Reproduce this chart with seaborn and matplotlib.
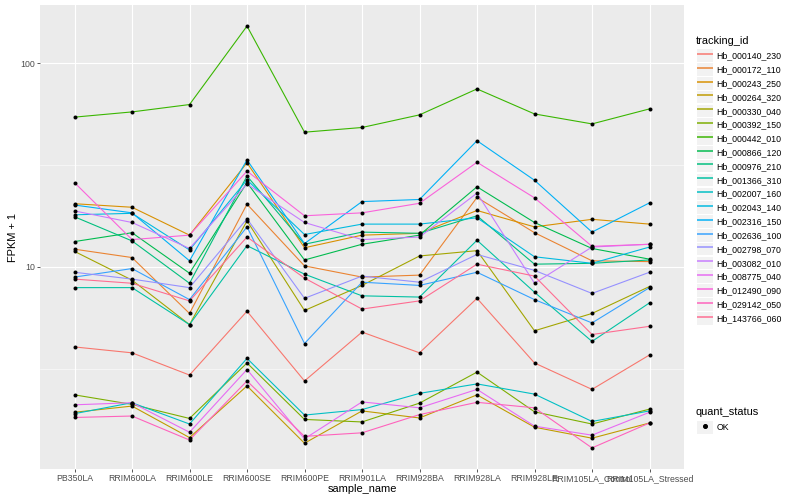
import numpy as np
import pandas as pd
import matplotlib
matplotlib.use("Agg")
import matplotlib.pyplot as plt
import seaborn as sns
from matplotlib.lines import Line2D
from matplotlib.patches import Patch
from matplotlib.legend_handler import HandlerTuple
from matplotlib.ticker import FixedLocator, NullFormatter

# samples on the x axis
samples = ["PB350LA", "RRIM600LA", "RRIM600LE", "RRIM600SE", "RRIM600PE", "RRIM901LA",
           "RRIM928BA", "RRIM928LA", "RRIM928LE", "RRIM105LA_Control", "RRIM105LA_Stressed"]

tracking_ids = ["Hb_000140_230", "Hb_000172_110", "Hb_000243_250", "Hb_000264_320",
                "Hb_000330_040", "Hb_000392_150", "Hb_000442_010", "Hb_000866_120",
                "Hb_000976_210", "Hb_001366_310", "Hb_002007_160", "Hb_002043_140",
                "Hb_002316_150", "Hb_002636_100", "Hb_002798_070", "Hb_003082_010",
                "Hb_008775_040", "Hb_012490_090", "Hb_029142_050", "Hb_143766_060"]

# FPKM + 1, one list per gene
hb_000140_230 = [4.04, 3.78, 2.94, 6.05, 2.75, 4.78, 3.78, 7.0, 3.37, 2.50, 3.69]
hb_000172_110 = [12.2, 11.1, 5.9, 20.3, 10.1, 8.9, 9.1, 21.9, 14.7, 10.7, 10.6]
hb_000243_250 = [20.4, 19.6, 14.3, 32.4, 12.4, 14.3, 14.6, 18.9, 15.7, 17.1, 16.2]
hb_000264_320 = [1.93, 2.07, 1.45, 2.60, 1.36, 1.96, 1.81, 2.35, 1.63, 1.44, 1.71]
hb_000330_040 = [11.9, 8.6, 5.2, 16.8, 6.1, 8.1, 11.3, 12.0, 4.85, 5.9, 8.0]
hb_000392_150 = [2.35, 2.11, 1.80, 3.37, 1.78, 1.73, 2.14, 3.04, 1.94, 1.69, 2.00]
hb_000442_010 = [54.3, 57.6, 62.6, 152.0, 45.8, 48.3, 55.7, 74.7, 56.3, 50.3, 59.6]
hb_000866_120 = [13.3, 14.7, 9.3, 25.9, 10.8, 12.9, 14.3, 24.7, 16.5, 12.3, 10.9]
hb_000976_210 = [17.6, 13.4, 8.3, 27.9, 12.9, 14.8, 14.6, 17.8, 10.3, 10.4, 10.8]
hb_001366_310 = [7.9, 7.9, 5.2, 12.7, 9.2, 7.2, 7.1, 13.5, 7.5, 4.3, 6.65]
hb_002007_160 = [1.90, 2.15, 1.69, 3.55, 1.87, 1.99, 2.39, 2.66, 2.37, 1.74, 1.96]
hb_002043_140 = [18.0, 18.3, 12.1, 26.7, 14.4, 16.2, 16.2, 17.4, 11.2, 10.4, 12.5]
hb_002316_150 = [20.1, 18.4, 10.7, 33.5, 13.0, 20.9, 21.4, 41.6, 26.6, 14.8, 20.6]
hb_002636_100 = [8.9, 9.8, 6.9, 15.7, 4.2, 8.4, 8.1, 9.4, 6.9, 5.3, 7.9]
hb_002798_070 = [9.4, 8.7, 7.9, 17.2, 7.0, 9.0, 8.4, 11.5, 9.6, 7.4, 9.4]
hb_003082_010 = [18.8, 16.5, 12.3, 25.5, 16.5, 13.6, 14.0, 23.0, 8.3, 12.5, 12.9]
hb_008775_040 = [2.10, 2.15, 1.54, 3.13, 1.43, 2.17, 2.03, 2.50, 1.65, 1.49, 1.93]
hb_012490_090 = [25.9, 13.6, 14.3, 29.5, 17.8, 18.4, 20.5, 32.6, 21.8, 12.6, 12.9]
hb_029142_050 = [1.82, 1.85, 1.41, 2.75, 1.47, 1.53, 1.88, 2.16, 2.03, 1.29, 1.71]
hb_143766_060 = [8.7, 8.3, 6.8, 14.0, 8.8, 6.2, 6.8, 10.3, 9.0, 4.65, 5.1]

series = [hb_000140_230, hb_000172_110, hb_000243_250, hb_000264_320, hb_000330_040,
          hb_000392_150, hb_000442_010, hb_000866_120, hb_000976_210, hb_001366_310,
          hb_002007_160, hb_002043_140, hb_002316_150, hb_002636_100, hb_002798_070,
          hb_003082_010, hb_008775_040, hb_012490_090, hb_029142_050, hb_143766_060]

quant_status = ["OK"]

# ggplot2 default hue palette for 20 levels
palette = ["#F8766D", "#EA8331", "#D89000", "#C09B00", "#A3A500", "#7CAE00", "#39B600",
           "#00BB4E", "#00BF7D", "#00C1A3", "#00BFC4", "#00BAE0", "#00B0F6", "#35A2FF",
           "#9590FF", "#C77CFF", "#E76BF3", "#FA62DB", "#FF62BC", "#FF6C91"]

rows = []
for tid, vals in zip(tracking_ids, series):
    for s, v in zip(samples, vals):
        rows.append({"tracking_id": tid, "sample_name": s, "fpkm": v, "quant_status": "OK"})
df = pd.DataFrame(rows)
df["x"] = df["sample_name"].map({s: i for i, s in enumerate(samples)})

plt.rcParams["font.family"] = ["Liberation Sans", "DejaVu Sans"]

W, H = 800, 500
fig = plt.figure(figsize=(W / 72, H / 72), dpi=72)
ax = fig.add_axes([40 / W, 1 - 469 / H, (684 - 40) / W, (469 - 5) / H])
ax.set_facecolor("#EBEBEB")
ax.set_yscale("log")

sns.lineplot(data=df, x="x", y="fpkm", hue="tracking_id", hue_order=tracking_ids,
             palette=dict(zip(tracking_ids, palette)), estimator=None, sort=False,
             linewidth=1.1, legend=False, ax=ax)
sns.scatterplot(data=df, x="x", y="fpkm", color="black", s=16, linewidth=0,
                legend=False, ax=ax, zorder=5)

# ggplot-like limits (5% expansion in log space, 0.6 on discrete axis)
lo = np.log10(df["fpkm"].min())
hi = np.log10(df["fpkm"].max())
r = hi - lo
ax.set_ylim(10 ** (lo - 0.05 * r), 10 ** (hi + 0.05 * r))
ax.set_xlim(-0.6, len(samples) - 0.4)

ax.set_xticks(range(len(samples)))
ax.set_xticklabels(samples)
ax.set_yticks([10, 100])
ax.set_yticklabels(["10", "100"])
ax.yaxis.set_minor_locator(FixedLocator([10 ** 0.5, 10 ** 1.5, 10 ** 2.5]))
ax.yaxis.set_minor_formatter(NullFormatter())
ax.tick_params(which="major", length=2.75, width=0.8, color="#333333",
               labelcolor="#4D4D4D", labelsize=8.8, pad=2.2)
ax.tick_params(which="minor", length=0)
ax.grid(which="major", color="white", linewidth=1.1)
ax.grid(which="minor", axis="y", color="white", linewidth=0.55)
ax.set_axisbelow(True)
for sp in ax.spines.values():
    sp.set_visible(False)

ax.set_xlabel("sample_name", fontsize=11, color="black")
ax.set_ylabel("FPKM + 1", fontsize=11, color="black")
ax.xaxis.set_label_coords(0.5, -(489 - 469) / 464)
ax.xaxis.label.set_va("center")
ax.yaxis.set_label_coords((13.3 - 40) / 644, 0.5)
ax.yaxis.label.set_va("center")

# legends
key_bg = "#F2F2F2"
handler = {tuple: HandlerTuple(ndivide=1, pad=0)}
fig.text(696 / W, 1 - 40.7 / H, "tracking_id", fontsize=11, va="center", ha="left")
h1 = [(Patch(facecolor=key_bg, edgecolor="none"),
       Line2D([], [], color=c, lw=1.5, solid_capstyle="butt")) for c in palette]
leg1 = fig.legend(h1, tracking_ids, loc="upper left", bbox_to_anchor=(696.7 / W, 1 - 49.3 / H),
                  frameon=False, fontsize=8.8, handler_map=handler, handlelength=1.82,
                  handleheight=1.82, labelspacing=0.143, handletextpad=0.45,
                  borderpad=0, borderaxespad=0)

fig.text(696 / W, 1 - 412.3 / H, "quant_status", fontsize=11, va="center", ha="left")
h2 = [(Patch(facecolor=key_bg, edgecolor="none"),
       Line2D([], [], color="black", marker="o", markersize=4, linestyle="none"))
      for _ in quant_status]
leg2 = fig.legend(h2, quant_status, loc="upper left", bbox_to_anchor=(696.7 / W, 1 - 421.3 / H),
                  frameon=False, fontsize=8.8, handler_map=handler, handlelength=1.82,
                  handleheight=1.82, labelspacing=0.143, handletextpad=0.45,
                  borderpad=0, borderaxespad=0)

fig.savefig("out.png", dpi=72, facecolor="white")
